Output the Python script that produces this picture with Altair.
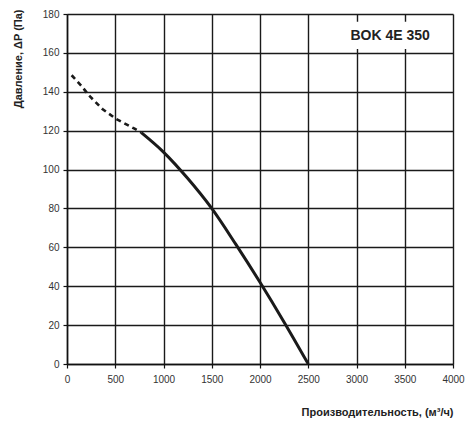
import altair as alt
import pandas as pd

# Dashed (unstable) part of the curve
dash_q = [48, 150, 230, 370, 510, 700, 770]
dash_p = [148.5, 143, 138, 131, 126, 121, 119]
# Solid (working) part of the curve
solid_q = [770, 1000, 1250, 1500, 1750, 2000, 2250, 2500]
solid_p = [119, 109, 95.5, 80, 61.5, 42, 21.5, 0]

x_ticks = [0, 500, 1000, 1500, 2000, 2500, 3000, 3500, 4000]
y_ticks = [0, 20, 40, 60, 80, 100, 120, 140, 160, 180]
label_text = "BOK 4E 350"

x_title = "Производительность, (м³/ч)"
y_title = "Давление, ΔP (Па)"

dash_df = pd.DataFrame({"q": dash_q, "p": dash_p})
solid_df = pd.DataFrame({"q": solid_q, "p": solid_p})

FONT = "Liberation Sans"

xs = alt.Scale(domain=[0, 4000], nice=False)
ys = alt.Scale(domain=[0, 180], nice=False)

xaxis = alt.Axis(values=x_ticks, format="d", title=x_title, titleAnchor="end", titleAlign="right",
                 titleBaseline="middle", titleY=48, labelPadding=6,
                 labelOverlap=False, labelFlush=False)
yaxis = alt.Axis(values=y_ticks, format="d", title=y_title, titleAnchor="end", titleAlign="right",
                 titleBaseline="middle", titleX=-49, titleY=-5, titleAngle=270, labelPadding=4,
                 labelOverlap=False, labelFlush=False, labelSeparation=0, labelBound=False)

base_solid = alt.Chart(solid_df).mark_line(
    color="#1a1a1a", strokeWidth=3, interpolate="monotone"
).encode(
    x=alt.X("q:Q", scale=xs, axis=xaxis),
    y=alt.Y("p:Q", scale=ys, axis=yaxis),
)

dashed = alt.Chart(dash_df).mark_line(
    color="#1a1a1a", strokeWidth=2.6, strokeDash=[5, 4]
).encode(
    x=alt.X("q:Q", scale=xs, axis=xaxis),
    y=alt.Y("p:Q", scale=ys, axis=yaxis),
)

box = alt.Chart(pd.DataFrame({"t": [label_text]})).mark_rect(
    color="white"
).encode(
    x=alt.datum(2880, scale=xs, axis=xaxis),
    x2=alt.datum(3940),
    y=alt.datum(162, scale=ys, axis=yaxis),
    y2=alt.datum(176),
)

txt = alt.Chart(pd.DataFrame({"t": [label_text]})).mark_text(
    font=FONT, fontSize=14, fontWeight="bold", color="#222"
).encode(
    x=alt.datum(3349, scale=xs, axis=xaxis),
    y=alt.datum(168.8, scale=ys, axis=yaxis),
    text="t:N",
)

chart = alt.layer(base_solid, dashed, box, txt).properties(
    width=386,
    height=350,
    autosize=alt.AutoSizeParams(type="none"),
    padding={"left": 59, "top": 6, "right": 12, "bottom": 56},
).configure_view(
    stroke="transparent"
).configure_axis(
    domainColor="#111",
    domainWidth=1.5,
    gridColor="#1a1a1a",
    gridWidth=1.4,
    gridOpacity=1,
    tickColor="#111",
    tickSize=4,
    tickWidth=1.2,
    labelFont=FONT,
    labelFontSize=10,
    labelColor="#333",
    labelOverlap=False,
    titleFont=FONT,
    titleFontSize=11,
    titleFontWeight="bold",
    titleColor="#222",
).configure_axisY(
    labelOverlap=False
)

chart.save("out.html", embed_options={"renderer": "svg", "actions": False})
